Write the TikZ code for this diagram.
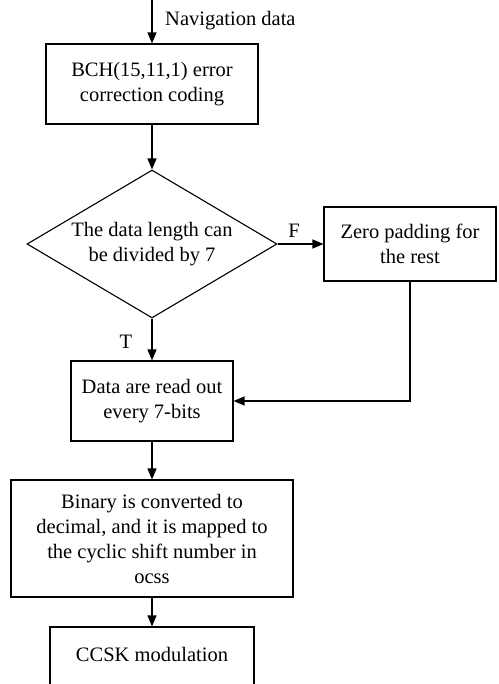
\documentclass[tikz,border=0pt]{standalone}
\usepackage{fontspec}
\setmainfont{Liberation Serif}
\usetikzlibrary{shapes.geometric,arrows.meta}
\begin{document}
\begin{tikzpicture}[x=1pt,y=-1pt,
  every node/.style={font=\fontsize{20.5}{25}\selectfont},
  box/.style={draw,line width=1.1pt,align=center,inner sep=0pt},
  flow/.style={line width=1.3pt,-{Triangle[length=11pt,width=9pt]}},
  lbl/.style={inner sep=0pt}]
\useasboundingbox (0,0) rectangle (498,684);
\clip (0,0) rectangle (498,684);
\coordinate (start) at (152,0);
\node[box,minimum width=212,minimum height=80] (b1) at (152,84) {BCH(15,11,1) error\\correction coding};
\node[draw,line width=1.1pt,diamond,aspect=1.69,inner sep=0pt,minimum width=250,minimum height=148,align=center] (d) at (152,244) {The data length can\\be divided by 7};
\node[box,minimum width=172,minimum height=74] (b2) at (410,244) {Zero padding for\\the rest};
\node[box,minimum width=162,minimum height=80] (b3) at (152,401) {Data are read out\\every 7-bits};
\node[box,minimum width=282,minimum height=117] (b4) at (152,538.5) {Binary is converted to\\decimal, and it is mapped to\\the cyclic shift number in\\ocss};
\node[box,minimum width=204,minimum height=80] (b5) at (152,667) {};
\node[lbl] (b5t) at (152,654) {CCSK modulation};
\node[lbl,anchor=west] (nav) at (165,21) {Navigation data};
\node[lbl] (F) at (294,231) {F};
\node[lbl] (T) at (126,342) {T};
\draw[flow] (start) -- (b1.north);
\draw[flow] (b1.south) -- (d.north);
\draw[flow] (d.east) -- (b2.west);
\draw[flow] (d.south) -- (b3.north);
\draw[flow] (b2.south) |- (b3.east);
\draw[flow] (b3.south) -- (b4.north);
\draw[flow] (b4.south) -- (b5.north);
\end{tikzpicture}
\end{document}
